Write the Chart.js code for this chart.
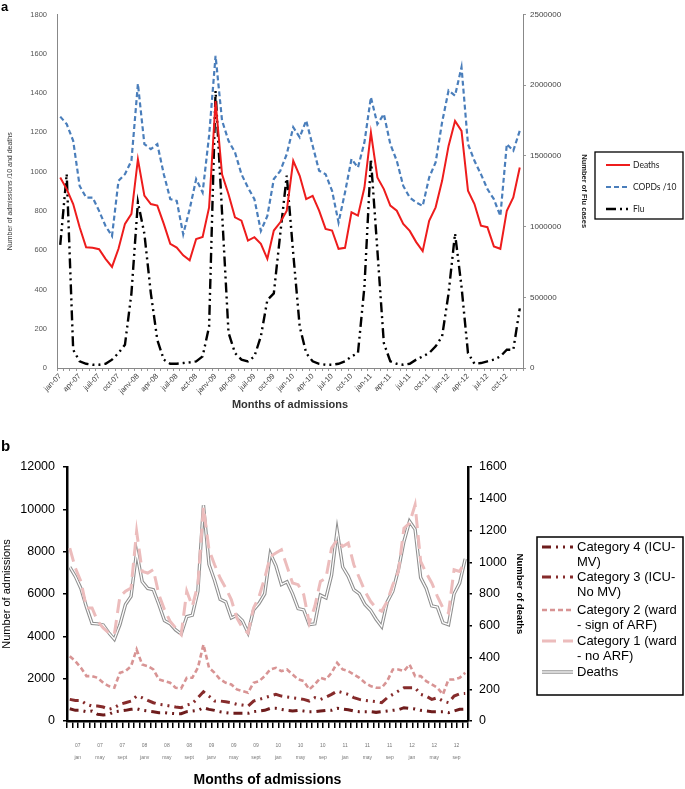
<!DOCTYPE html>
<html>
<head>
<meta charset="utf-8">
<script src="https://cdn.jsdelivr.net/npm/chart.js@4.4.1/dist/chart.umd.min.js"></script>
<style>
  html, body { margin: 0; padding: 0; background: #fff; }
  #wrap { position: relative; width: 685px; height: 789px; }
  canvas { position: absolute; left: 0; }
  #chartA { top: 0; }
  #chartB { top: 420px; }
</style>
</head>
<body>
<div id="wrap">
  <canvas id="chartA" width="685" height="420"></canvas>
  <canvas id="chartB" width="685" height="369"></canvas>
</div>
<script>
// ---- data (monthly, jan 2007 - dec 2012) ----
const years = ['07', '08', '09', '10', '11', '12']
const monthNames = ['jan', 'feb', 'mar', 'apr', 'may', 'jun', 'jul', 'aug', 'sep', 'oct', 'nov', 'dec']

// panel a
const ticksA = ['jan-07', 'apr-07', 'juil-07', 'oct-07', 'janv-08', 'apr-08', 'juil-08', 'act-08',
  'janv-09', 'apr-09', 'juil-09', 'oct-09', 'jan-10', 'apr-10', 'jul-10', 'oct-10',
  'jan-11', 'apr-11', 'jul-11', 'oct-11', 'jan-12', 'apr-12', 'jul-12', 'oct-12']
const deaths = [970, 911, 835, 717, 615, 612, 605, 556, 515, 607, 734, 785,
  1063, 878, 835, 827, 734, 632, 613, 574, 548, 657, 667, 818,
  1359, 986, 885, 767, 750, 649, 666, 632, 556, 700, 742, 801,
  1055, 979, 860, 877, 801, 708, 700, 607, 612, 793, 776, 919,
  1199, 970, 911, 827, 801, 734, 698, 641, 595, 750, 818, 953,
  1131, 1258, 1207, 903, 835, 725, 717, 619, 607, 801, 869, 1021]
const copd10 = [1280, 1242, 1157, 927, 868, 868, 800, 723, 672, 953, 987, 1055,
  1447, 1140, 1115, 1140, 987, 860, 851, 681, 809, 962, 894, 1183,
  1590, 1260, 1157, 1098, 987, 919, 860, 698, 774, 962, 1004, 1089,
  1226, 1175, 1260, 1132, 1004, 987, 902, 741, 894, 1064, 1021, 1149,
  1379, 1242, 1293, 1140, 1055, 927, 868, 843, 825, 970, 1047, 1251,
  1413, 1387, 1532, 1140, 1055, 987, 911, 860, 774, 1140, 1106, 1208]
const flu = [870000, 1373000, 129000, 47000, 30000, 23000, 23000, 30000, 59000, 106000, 164000, 528000,
  1173000, 950000, 528000, 199000, 59000, 30000, 30000, 35000, 40000, 47000, 82000, 293000,
  1960000, 1100000, 250000, 106000, 59000, 47000, 82000, 223000, 481000, 528000, 951000, 1361000,
  810000, 293000, 106000, 47000, 30000, 23000, 23000, 30000, 47000, 82000, 106000, 575000,
  1479000, 833000, 176000, 47000, 30000, 23000, 30000, 59000, 82000, 106000, 153000, 223000,
  528000, 951000, 575000, 106000, 30000, 35000, 47000, 59000, 82000, 129000, 129000, 422000]

// panel b
const ticksBYear = ['07', '07', '07', '08', '08', '08', '09', '09', '09', '10', '10', '10', '11', '11', '11', '12', '12', '12']
const ticksBMonth = ['jan', 'may', 'sept', 'janv', 'may', 'sept', 'janv', 'may', 'sept', 'jan', 'may', 'sep', 'jan', 'may', 'sep', 'jan', 'may', 'sep']
const cat1 = [8169, 7227, 6598, 5341, 5341, 4713, 4399, 4163, 4085, 5891, 6127, 6284,
  8955, 7070, 6991, 7148, 5970, 5263, 4713, 4399, 4085, 6127, 5420, 6441,
  10100, 8091, 7384, 6755, 6284, 5734, 4870, 4399, 4163, 5341, 5891, 6755,
  7776, 7934, 8091, 7305, 6520, 6441, 5970, 4634, 5420, 6598, 6755, 8169,
  8562, 8248, 8405, 7384, 6755, 6127, 5656, 5341, 5184, 5656, 6441, 7070,
  9112, 9348, 10212, 7541, 6991, 6520, 5891, 5341, 5106, 7148, 7070, 7541]
const cat2 = [3063, 2828, 2514, 2121, 2121, 2042, 1807, 1650, 1571, 2278, 2357, 2592,
  3378, 2671, 2592, 2435, 1964, 1885, 1807, 1571, 1540, 2042, 2042, 2514,
  3613, 2514, 2278, 1964, 1807, 1728, 1492, 1414, 1335, 1807, 1885, 2121,
  2435, 2514, 2357, 2435, 2199, 1964, 1885, 1492, 1728, 2042, 1964, 2278,
  2749, 2435, 2357, 2199, 2042, 1807, 1650, 1571, 1571, 1885, 2435, 2435,
  2357, 2671, 2121, 2121, 1885, 1728, 1571, 1257, 1964, 1964, 2042, 2278]
const cat3 = [1021, 974, 974, 786, 707, 707, 660, 550, 628, 786, 864, 943,
  1178, 1100, 974, 864, 786, 754, 707, 660, 628, 754, 817, 1100,
  1382, 1178, 943, 943, 911, 864, 786, 754, 707, 943, 1021, 1100,
  1178, 1257, 1178, 1131, 1100, 1068, 1021, 943, 1100, 1021, 1131, 1257,
  1414, 1335, 1257, 1100, 1021, 974, 943, 911, 864, 1100, 1257, 1414,
  1571, 1571, 1571, 1257, 1178, 1021, 1100, 943, 864, 1178, 1288, 1304]
const cat4 = [581, 503, 503, 440, 471, 314, 283, 314, 440, 471, 503, 550,
  581, 503, 471, 440, 393, 393, 361, 346, 346, 440, 471, 503,
  628, 550, 503, 440, 393, 361, 361, 361, 361, 440, 471, 503,
  597, 597, 550, 503, 471, 503, 471, 440, 440, 471, 503, 503,
  597, 566, 534, 471, 440, 440, 440, 408, 440, 471, 503, 534,
  628, 597, 566, 503, 471, 440, 440, 440, 393, 471, 550, 560]

const months = []
years.forEach((y) => monthNames.forEach((m) => months.push(m + '-' + y)))

Chart.defaults.font.family = "'Liberation Sans', Arial, sans-serif"
Chart.defaults.color = '#000'

// axis boxes with a fixed size so both plots land where the figure has them
const fixW = (w) => (scale) => { scale.width = w }
const fixH = (h) => (scale) => { scale.height = h }
const plain = (v) => String(v) // no thousands separator, as in the figure

// framed legend + panel letter
const boxLegend = {
  id: 'boxLegend',
  afterDraw(chart, args, o) {
    if (!o.items) return
    const ctx = chart.ctx
    ctx.save()
    ctx.fillStyle = '#000'
    ctx.textBaseline = 'middle'
    ctx.font = o.tagFont
    ctx.fillText(o.tag, o.tagX, o.tagY)
    ctx.strokeStyle = '#000'
    ctx.lineWidth = o.borderWidth
    ctx.strokeRect(o.x, o.y, o.w, o.h)
    ctx.font = o.font
    o.items.forEach((it) => {
      const y = o.y + it.dy
      it.ds.forEach((k) => {
        const ds = chart.data.datasets[k]
        ctx.beginPath()
        ctx.setLineDash(ds.borderDash || [])
        ctx.strokeStyle = ds.borderColor
        ctx.lineWidth = ds.borderWidth
        ctx.moveTo(o.x + o.lineX0, y)
        ctx.lineTo(o.x + o.lineX1, y)
        ctx.stroke()
      })
      ctx.setLineDash([])
      ctx.fillStyle = o.color
      it.text.forEach((t, j) => ctx.fillText(t, o.x + o.textX, y + j * o.lineH))
    })
    ctx.restore()
  }
}

// ### panel a
new Chart(document.getElementById('chartA'), {
  type: 'line',
  plugins: [boxLegend],
  data: {
    labels: months,
    datasets: [
      { label: 'Deaths', data: deaths, yAxisID: 'y', borderColor: '#ee1c1c', borderWidth: 2 },
      { label: 'COPDs /10', data: copd10, yAxisID: 'y', borderColor: '#4a7ebb', borderWidth: 2.2, borderDash: [5, 3] },
      { label: 'Flu', data: flu, yAxisID: 'y2', borderColor: '#000', borderWidth: 2.4, borderDash: [10, 4, 2, 4, 2, 4] },
    ],
  },
  options: {
    responsive: false,
    animation: false,
    layout: { padding: { top: 13, right: 94, left: 0, bottom: 0 } },
    elements: { point: { radius: 0 }, line: { tension: 0 } },
    plugins: {
      legend: { display: false },
      tooltip: { enabled: false },
      boxLegend: {
        tag: 'a', tagFont: 'bold 13px "Liberation Sans"', tagX: 1, tagY: 7,
        x: 595, y: 152, w: 88, h: 67, borderWidth: 1.3,
        font: '8.5px Lato', color: '#222', lineX0: 11, lineX1: 35, textX: 38, lineH: 10,
        items: [
          { ds: [0], dy: 13, text: ['Deaths'] },
          { ds: [1], dy: 35, text: ['COPDs /10'] },
          { ds: [2], dy: 57, text: ['Flu'] },
        ],
      },
    },
    scales: {
      x: {
        offset: true,
        grid: { drawOnChartArea: false, offset: true, tickLength: 3, color: '#999' },
        border: { color: '#888' },
        ticks: {
          autoSkip: false, minRotation: 45, maxRotation: 45, padding: 1,
          color: '#404040', font: { size: 7.5 },
          callback: (v, i) => (i % 3 === 0 ? ticksA[i / 3] : ''),
        },
        title: { display: true, text: 'Months of admissions', color: '#333', font: { size: 11, weight: 'bold' }, padding: { top: 0, bottom: 8 } },
        afterFit: fixH(52),
      },
      y: {
        min: 0, max: 1800,
        grid: { drawOnChartArea: false, drawTicks: false },
        border: { color: '#888' },
        ticks: { stepSize: 200, padding: 10, color: '#555', font: { size: 7.5 }, callback: plain },
        title: { display: true, text: 'Number of admissions /10 and deaths', color: '#333', font: { size: 7 }, padding: { top: 6 } },
        afterFit: fixW(57),
      },
      y2: {
        position: 'right', min: 0, max: 2500000,
        grid: { drawOnChartArea: false, tickLength: 3, color: '#999' },
        border: { color: '#888' },
        ticks: { stepSize: 500000, padding: 4, color: '#444', font: { size: 8 }, callback: plain },
        title: { display: true, text: 'Number of Flu cases', color: '#222', font: { size: 7.5, weight: 'bold' }, padding: { top: 2 } },
        afterFit: fixW(68),
      },
    },
  },
})

// ### panel b
new Chart(document.getElementById('chartB'), {
  type: 'line',
  plugins: [boxLegend],
  data: {
    labels: months,
    datasets: [
      { label: 'Category 4 (ICU-MV)', data: cat4, yAxisID: 'y', borderColor: '#6e1c1c', borderWidth: 3, borderDash: [9, 5, 2, 5, 2, 5] },
      { label: 'Category 3 (ICU-No MV)', data: cat3, yAxisID: 'y', borderColor: '#862b2b', borderWidth: 3, borderDash: [9, 5, 2, 5, 2, 5] },
      { label: 'Category 2 (ward - sign of ARF)', data: cat2, yAxisID: 'y', borderColor: '#d89494', borderWidth: 2.6, borderDash: [5, 3] },
      { label: 'Category 1 (ward - no ARF)', data: cat1, yAxisID: 'y', borderColor: '#ecbcbc', borderWidth: 3, borderDash: [14, 7] },
      { label: 'Deaths', data: deaths, yAxisID: 'y2', borderColor: '#ffffff', borderWidth: 1.3 },
      { label: 'Deaths', data: deaths, yAxisID: 'y2', borderColor: '#8f8f8f', borderWidth: 3.4 },
    ],
  },
  options: {
    responsive: false,
    animation: false,
    layout: { padding: { top: 47, right: 158, left: 0, bottom: 0 } },
    elements: { point: { radius: 0 }, line: { tension: 0 } },
    plugins: {
      legend: { display: false },
      tooltip: { enabled: false },
      boxLegend: {
        tag: 'b', tagFont: 'bold 15px "Liberation Sans"', tagX: 1, tagY: 27,
        x: 537, y: 117, w: 146, h: 158, borderWidth: 1.5,
        font: '13px "Liberation Sans"', color: '#000', lineX0: 5, lineX1: 36, textX: 40, lineH: 15.3,
        items: [
          { ds: [0], dy: 10, text: ['Category 4 (ICU-', 'MV)'] },
          { ds: [1], dy: 40, text: ['Category 3 (ICU-', 'No MV)'] },
          { ds: [2], dy: 73, text: ['Category 2 (ward', '- sign of ARF)'] },
          { ds: [3], dy: 104, text: ['Category 1 (ward', '- no ARF)'] },
          { ds: [5, 4], dy: 135, text: ['Deaths'] },
        ],
      },
    },
    scales: {
      x: {
        offset: true,
        grid: { drawOnChartArea: false, offset: true, tickLength: 7, color: '#000', lineWidth: 1.5 },
        border: { color: '#000', width: 2.5 },
        ticks: {
          autoSkip: false, minRotation: 0, maxRotation: 0, padding: 12, labelOffset: 8,
          color: '#777', font: { size: 5, lineHeight: 2.4 },
          callback: (v, i) => (i % 4 === 0 ? [ticksBYear[i / 4], ticksBMonth[i / 4]] : ''),
        },
        title: { display: true, text: 'Months of admissions', color: '#000', font: { size: 14, weight: 'bold' }, padding: 0 },
        afterFit: fixH(68),
      },
      y: {
        min: 0, max: 12000,
        grid: { drawOnChartArea: false, tickLength: 4, color: '#000', lineWidth: 1.5 },
        border: { color: '#000', width: 2.5 },
        ticks: { stepSize: 2000, padding: 8, color: '#000', font: { size: 12.5 }, callback: plain },
        title: { display: true, text: 'Number of admissions', color: '#000', font: { size: 11 }, padding: 0 },
        afterFit: fixW(67),
      },
      y2: {
        position: 'right', min: 0, max: 1600,
        grid: { drawOnChartArea: false, tickLength: 4, color: '#000', lineWidth: 1.5 },
        border: { color: '#000', width: 2.5 },
        ticks: { stepSize: 200, padding: 7, color: '#000', font: { size: 12.5 }, callback: plain },
        title: { display: true, text: 'Number of deaths', color: '#000', font: { size: 9.5, weight: 'bold' }, padding: { top: 2 } },
        afterFit: fixW(59),
      },
    },
  },
})
</script>
</body>
</html>
